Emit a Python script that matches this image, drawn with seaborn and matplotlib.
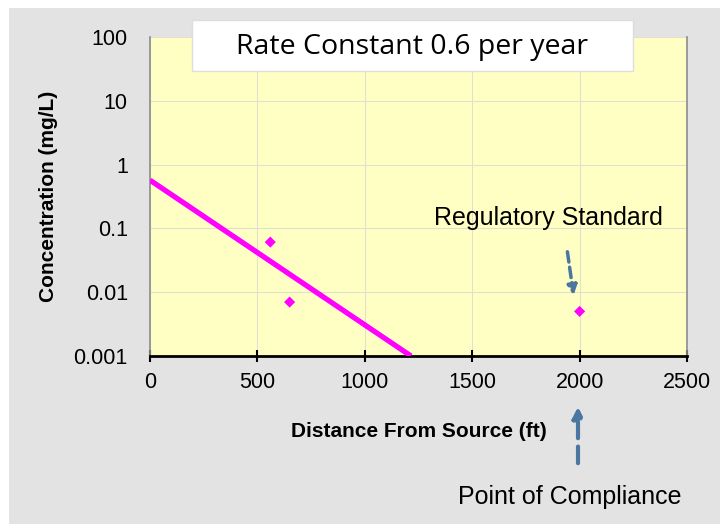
import numpy as np
import pandas as pd
import matplotlib
matplotlib.use("Agg")
import matplotlib.pyplot as plt
import seaborn as sns
from matplotlib.patches import Rectangle

# datos
distancia_linea = [0, 1215]
concentracion_linea = [0.57, 0.001]

distancia_puntos = [560, 650, 2000]
concentracion_puntos = [0.061, 0.007, 0.005]

ticks_x = [0, 500, 1000, 1500, 2000, 2500]
ticks_y = [0.001, 0.01, 0.1, 1, 10, 100]
etiquetas_y = ["0.001", "0.01", "0.1", "1", "10", "100"]

linea = pd.DataFrame({"dist": distancia_linea, "conc": concentracion_linea})
puntos = pd.DataFrame({"dist": distancia_puntos, "conc": concentracion_puntos})

sns.set_theme(style="white")
plt.rcParams["font.family"] = ["Liberation Sans", "DejaVu Sans"]

fig = plt.figure(figsize=(7.2, 5.24), dpi=100)
fig.patch.set_facecolor("white")
fig.patches.append(Rectangle((9 / 720, 0), 1 - 9 / 720, 1 - 8 / 524,
                             transform=fig.transFigure, facecolor="#e3e3e3",
                             edgecolor="none", zorder=-10))

ax = fig.add_axes([150 / 720, 1 - 356 / 524, 537 / 720, 319 / 524])
ax.set_facecolor("#ffffc4")

sns.lineplot(data=linea, x="dist", y="conc", ax=ax, color="#ff00ff",
             linewidth=3.8, solid_capstyle="butt", zorder=3)
sns.scatterplot(data=puntos, x="dist", y="conc", ax=ax, color="#ff00ff",
                marker="D", s=32, edgecolor="none", zorder=4)

ax.set_yscale("log")
ax.set_xlim(0, 2500)
ax.set_ylim(0.001, 100)
ax.set_xticks(ticks_x)
ax.set_xticklabels([str(t) for t in ticks_x])
ax.set_yticks(ticks_y)
ax.set_yticklabels(etiquetas_y)
ax.minorticks_off()
ax.grid(True, color="#e0e0d0", linewidth=0.8)
ax.set_axisbelow(True)

for lado in ["left", "right", "top"]:
    ax.spines[lado].set_color("#8c8c8c")
    ax.spines[lado].set_linewidth(1.2)
ax.spines["top"].set_visible(False)
ax.spines["bottom"].set_color("black")
ax.spines["bottom"].set_linewidth(2)

ax.tick_params(axis="x", direction="inout", length=9, width=1.5, colors="black",
               labelsize=15.5, pad=7, bottom=True)
ax.tick_params(axis="y", length=0, labelsize=15.5, pad=16, left=False)
for t in ax.get_xticklabels() + ax.get_yticklabels():
    t.set_color("black")

ax.set_xlabel("Distance From Source (ft)", fontsize=15, fontweight="bold",
              labelpad=21, color="black")
ax.set_ylabel("Concentration (mg/L)", fontsize=15, fontweight="bold",
              labelpad=11, color="black")

# caja del titulo
fig.patches.append(Rectangle((192 / 720, 1 - 71 / 524), 441 / 720, 51 / 524,
                             transform=fig.transFigure, facecolor="white",
                             edgecolor="#dddddd", linewidth=1, zorder=5))
fig.text(412 / 720, 1 - 47 / 524, "Rate Constant 0.6 per year",
         family=["Open Sans", "DejaVu Sans"], fontsize=20.5, color="black",
         ha="center", va="center", zorder=10)

fig.text(548 / 720, 1 - 218 / 524, "Regulatory Standard",
         fontsize=18, ha="center", va="center", color="black")
ax.annotate("", xy=(574 / 720, 1 - 298 / 524), xytext=(567 / 720, 1 - 249 / 524),
            xycoords="figure fraction", textcoords="figure fraction",
            arrowprops=dict(arrowstyle="-|>", color="#4a76a0", lw=2.5,
                            linestyle=(0, (3, 1.5)), mutation_scale=14))

fig.text(570 / 720, 1 - 497 / 524, "Point of Compliance", fontsize=18,
         ha="center", va="center", color="black")
ax.annotate("", xy=(578 / 720, 1 - 404 / 524), xytext=(578 / 720, 1 - 466 / 524),
            xycoords="figure fraction", textcoords="figure fraction",
            arrowprops=dict(arrowstyle="-|>", color="#4a76a0", lw=3,
                            linestyle=(0, (4, 2)), mutation_scale=16))

fig.savefig("out.png", dpi=100)
